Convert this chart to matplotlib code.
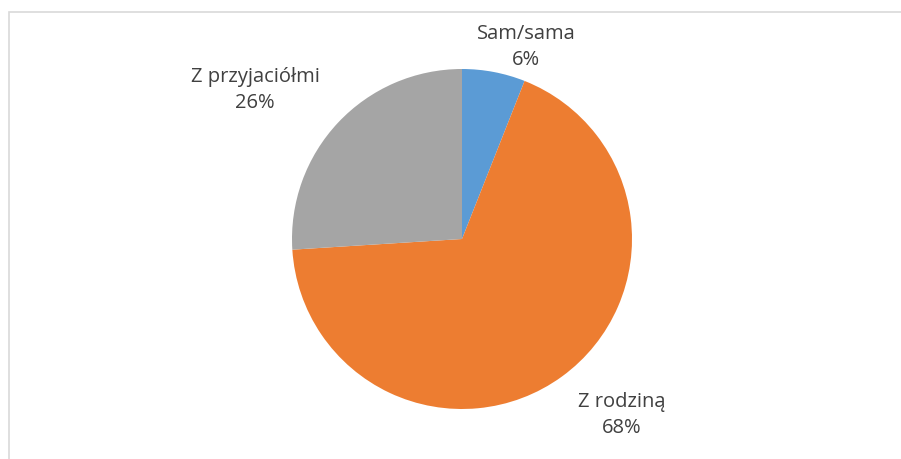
import matplotlib.pyplot as plt
from matplotlib.patches import Rectangle

labels = ['Sam/sama', 'Z rodziną', 'Z przyjaciółmi']
shares = [6, 68, 26]
colors = ['#5B9BD5', '#ED7D31', '#A5A5A5']

# label centres in pixels (x, y from top)
label_pos = [(526, 47), (622, 415), (255, 90)]

W, H = 901, 459
fig = plt.figure(figsize=(W / 100, H / 100), dpi=100)
plt.rcParams['font.family'] = ['Open Sans', 'DejaVu Sans']

# light frame round the chart area (runs off the right and bottom edges)
fig.patches.append(Rectangle((8.5 / W, -0.1), 1.2, 1.1 - 12.5 / H, transform=fig.transFigure,
                             fill=False, edgecolor='#D9D9D9', linewidth=1.2))

cx, cy, r = 462, 239, 170
ax = fig.add_axes([(cx - r) / W, (H - cy - r) / H, 2 * r / W, 2 * r / H])
ax.pie(shares, colors=colors, startangle=90, counterclock=False,
       wedgeprops=dict(linewidth=0))
ax.set_xlim(-1, 1)
ax.set_ylim(-1, 1)
ax.set_aspect('equal')

for lab, val, (x, y) in zip(labels, shares, label_pos):
    fig.text(x / W, 1 - y / H, f'{lab}\n{val}%', ha='center', va='center',
             fontsize=14.5, color='#404040', linespacing=1.45)

fig.savefig('out.png', dpi=100)
